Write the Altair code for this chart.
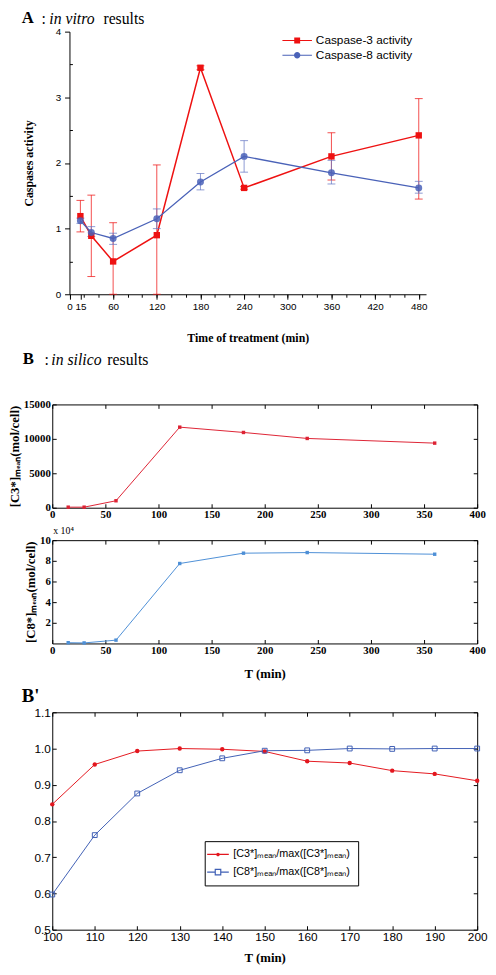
import altair as alt
import pandas as pd

# ---------------- data ----------------
# Panel A : in vitro results
A_TIME = [15, 30, 60, 120, 180, 240, 360, 480]
C3_ACT = [1.19, 0.89, 0.50, 0.90, 3.45, 1.62, 2.10, 2.42]
C3_LO = [0.95, 0.27, 0.00, 0.00, 3.42, 1.60, 1.74, 1.45]
C3_HI = [1.43, 1.51, 1.09, 1.97, 3.48, 1.64, 2.46, 2.98]
C8_ACT = [1.12, 0.94, 0.85, 1.15, 1.71, 2.10, 1.85, 1.62]
C8_LO = [1.08, 0.88, 0.76, 1.00, 1.59, 1.86, 1.68, 1.54]
C8_HI = [1.16, 1.03, 0.93, 1.30, 1.84, 2.34, 2.04, 1.72]
A_SERIES = ["Caspase-3 activity", "Caspase-8 activity"]
A_XLABELS = [0, 15, 60, 120, 180, 240, 300, 360, 420, 480]
A_XMINOR = [0, 20, 40, 60, 80, 100, 120, 140, 160, 180, 200, 220, 240, 260,
            280, 300, 320, 340, 360, 380, 400, 420, 440, 460, 480]
A_YLABELS = [0, 1, 2, 3, 4]
A_YMINOR = [0.5, 1.5, 2.5, 3.5]

# Panel B : in silico results
B_TIME = [15, 30, 60, 120, 180, 240, 360]
C3_MEAN = [80, 80, 1010, 11700, 10930, 10060, 9380]
C8_MEAN = [0.07, 0.05, 0.32, 7.74, 8.74, 8.80, 8.64]  # x 10^4
B_XTICKS = [0, 50, 100, 150, 200, 250, 300, 350, 400]
B1_YTICKS = [0, 5000, 10000, 15000]
B2_YTICKS = [2, 4, 6, 8, 10]

# Panel B'
BP_TIME = [100, 110, 120, 130, 140, 150, 160, 170, 180, 190, 200]
C3_NORM = [0.846, 0.956, 0.993, 1.000, 0.998, 0.992, 0.965, 0.960, 0.939, 0.930, 0.911]
C8_NORM = [0.597, 0.761, 0.876, 0.940, 0.973, 0.994, 0.995, 1.000, 0.999, 1.000, 1.000]
BP_SERIES = ["[C3*]\u2098\u2091\u2090\u2099/max([C3*]\u2098\u2091\u2090\u2099)",
             "[C8*]\u2098\u2091\u2090\u2099/max([C8*]\u2098\u2091\u2090\u2099)"]
BP_XTICKS = [100, 110, 120, 130, 140, 150, 160, 170, 180, 190, 200]
BP_YTICKS = [0.5, 0.6, 0.7, 0.8, 0.9, 1.0, 1.1]

# ---------------- style ----------------
SERIF = "Liberation Serif"
SANS = "Liberation Sans"
W = 432
RED_A, BLUE_A = "#EE1111", "#4A62B8"
RED_B, BLUE_B = "#DD2233", "#4D8FD6"
RED_P, BLUE_P = "#E3161E", "#3F5FB5"

one = pd.DataFrame({"k": [0]})


def label(text, x, y, size=16, weight="normal", style="normal"):
    # y is the top of the text line
    return alt.Chart(one).mark_text(
        text=text, font=SERIF, fontSize=size, fontWeight=weight, fontStyle=style,
        align="left", baseline="top", color="black"
    ).encode(x=alt.value(x), y=alt.value(y))


def tick_axis(orient, values, offset, size=4):
    return alt.Axis(orient=orient, values=values, offset=offset, tickSize=size,
                    labels=False, domain=False, grid=False, title=None,
                    tickColor="black")


# ================= Panel A =================
a3 = pd.DataFrame({"t": A_TIME, "v": C3_ACT, "lo": C3_LO, "hi": C3_HI})
a8 = pd.DataFrame({"t": A_TIME, "v": C8_ACT, "lo": C8_LO, "hi": C8_HI})
xA = alt.Scale(domain=[0, 490], range=[17.5, 380], nice=False)
yA = alt.Scale(domain=[0, 4], nice=False)

xa_main = alt.Axis(orient="bottom", values=A_XLABELS, tickSize=5, tickColor="black",
                   domainColor="black", labelColor="black", labelFont=SANS,
                   labelFontSize=10, labelPadding=2, labelFlush=False,
                   labelOverlap=False, grid=False, format="d",
                   title="Time of treatment (min)", titleFont=SERIF,
                   titleFontSize=12, titleFontWeight="bold", titleColor="black",
                   titlePadding=22)
ya_main = alt.Axis(orient="left", values=A_YLABELS, offset=-17.5, tickSize=5,
                   tickColor="black", domainColor="black", labelColor="black",
                   labelFont=SANS, labelFontSize=10, labelPadding=4, grid=False,
                   format="d", title="Caspases activity", titleFont=SERIF,
                   titleFontSize=12, titleFontWeight="bold", titleColor="black",
                   titlePadding=20)
xa_minor = tick_axis("bottom", A_XMINOR, 0, 3)
ya_minor = tick_axis("left", A_YMINOR, -20.5, 3)


def xa(axis=None):
    return alt.X("t:Q", scale=xA, axis=axis)


def err_layers(d, color):
    rule = alt.Chart(d).mark_rule(color=color, opacity=0.75, strokeWidth=1).encode(
        x=xa(), y=alt.Y("lo:Q", scale=yA, axis=None), y2="hi:Q")
    caps = alt.Chart(d).transform_fold(["lo", "hi"]).mark_tick(
        orient="horizontal", size=8, thickness=1, color=color, opacity=0.75
    ).encode(x=xa(), y=alt.Y("value:Q", scale=yA, axis=None))
    return [rule, caps]


lineA3 = alt.Chart(a3).mark_line(color=RED_A, strokeWidth=1.5).encode(
    x=xa(xa_main), y=alt.Y("v:Q", scale=yA, axis=ya_main))
lineA8 = alt.Chart(a8).mark_line(color=BLUE_A, strokeWidth=1.3).encode(
    x=xa(xa_minor), y=alt.Y("v:Q", scale=yA, axis=ya_minor))
ptA3 = alt.Chart(a3).mark_point(shape="square", filled=True, size=42, color=RED_A,
                                opacity=1).encode(x=xa(), y=alt.Y("v:Q", scale=yA, axis=None))
ptA8 = alt.Chart(a8).mark_point(shape="circle", filled=True, size=50, color=BLUE_A,
                                opacity=0.85).encode(x=xa(), y=alt.Y("v:Q", scale=yA, axis=None))

PATH_SQ = "M-3,-0.12H3V0.12H-3Z M-0.6,-0.6H0.6V0.6H-0.6Z"
PATH_CI = "M-3,-0.12H3V0.12H-3Z M0.65,0A0.65,0.65 0 1,1 -0.65,0A0.65,0.65 0 1,1 0.65,0Z"
legA = alt.Legend(orient="none", legendX=243, legendY=3, title=None, labelFont=SANS,
                  labelFontSize=12, labelColor="black", symbolSize=100,
                  labelOffset=13, rowPadding=3, padding=0, symbolStrokeWidth=0)
legendA = alt.Chart(pd.DataFrame({"s": A_SERIES})).transform_filter("false").mark_point(
    filled=True, opacity=1
).encode(
    color=alt.Color("s:N", scale=alt.Scale(domain=A_SERIES, range=[RED_A, BLUE_A]), legend=legA),
    shape=alt.Shape("s:N", scale=alt.Scale(domain=A_SERIES, range=[PATH_SQ, PATH_CI]), legend=legA),
)

panelA = alt.layer(
    lineA3, lineA8, *err_layers(a3, RED_A), *err_layers(a8, "#6678C4"), ptA3, ptA8, legendA,
    label("A", -31, -22, 17, "bold"), label(":", -11, -21), label("in vitro", -3, -21, style="italic"),
    label("results", 52, -21),
).resolve_axis(x="independent", y="independent").properties(
    width=W, height=267, view=alt.ViewBackground(stroke="transparent"))


# ================= Panel B (two boxes) =================
def box_panel(d, color, yscale, yticks, ytitle, xtitle, height, extra):
    xs = alt.Scale(domain=[0, 400], nice=False)
    x_main = alt.Axis(orient="bottom", values=B_XTICKS, offset=-4, tickSize=4, domain=False,
                      tickColor="black", labelColor="black", labelFont=SERIF,
                      labelFontWeight="bold", labelFontSize=11, labelPadding=1,
                      labelFlush=False, labelOverlap=False, grid=False,
                      title=xtitle, titleFont=SERIF, titleFontSize=13,
                      titleFontWeight="bold", titleColor="black", titlePadding=13)
    y_main = alt.Axis(orient="left", values=yticks, offset=-4, tickSize=4, domain=False,
                      tickColor="black", labelColor="black", labelFont=SERIF,
                      labelFontWeight="bold", labelFontSize=11, labelPadding=2,
                      labelFlush=False, labelOverlap=False, grid=False, format="d",
                      title=ytitle, titleFont=SERIF, titleFontSize=13,
                      titleFontWeight="bold", titleColor="black", titlePadding=2)
    line = alt.Chart(d).mark_line(color=color, strokeWidth=1).encode(
        x=alt.X("t:Q", scale=xs, axis=x_main), y=alt.Y("v:Q", scale=yscale, axis=y_main))
    pts = alt.Chart(d).mark_point(shape="square", filled=True, size=12, color=color,
                                  opacity=1).encode(
        x=alt.X("t:Q", scale=xs, axis=tick_axis("top", B_XTICKS, -4)),
        y=alt.Y("v:Q", scale=yscale, axis=tick_axis("right", yticks, -4)))
    return alt.layer(line, pts, *extra).resolve_axis(
        x="independent", y="independent").properties(width=W, height=height)


b1 = pd.DataFrame({"t": B_TIME, "v": C3_MEAN})
b2 = pd.DataFrame({"t": B_TIME, "v": C8_MEAN})
panelB1 = box_panel(
    b1, RED_B, alt.Scale(domain=[0, 15000], nice=False), B1_YTICKS,
    "[C3*]\u2098\u2091\u2090\u2099(mol/cell)", None, 105,
    [label("B", -30, -54, 17, "bold"), label(":", -8, -53), label("in silico", -1, -53, style="italic"),
     label("results", 56, -53)])
panelB2 = box_panel(
    b2, BLUE_B, alt.Scale(domain=[0, 10], nice=False), B2_YTICKS,
    "[C8*]\u2098\u2091\u2090\u2099(mol/cell)", "T (min)", 105,
    [label("x 10\u2074", 1, -14, 10)])

# ================= Panel B' =================
bp3 = pd.DataFrame({"t": BP_TIME, "v": C3_NORM})
bp8 = pd.DataFrame({"t": BP_TIME, "v": C8_NORM})
xP = alt.Scale(domain=[100, 200], nice=False)
yP = alt.Scale(domain=[0.5, 1.1], nice=False)
xp_main = alt.Axis(orient="bottom", values=BP_XTICKS, offset=-4, tickSize=4, domain=False,
                   tickColor="black", labelColor="black", labelFont=SANS, labelFontSize=12,
                   labelPadding=2, labelFlush=False, labelOverlap=False, grid=False,
                   format="d", title="T (min)", titleFont=SERIF, titleFontSize=13,
                   titleFontWeight="bold", titleColor="black", titlePadding=9)
yp_main = alt.Axis(orient="left", values=BP_YTICKS, offset=-4, tickSize=4, domain=False,
                   tickColor="black", labelColor="black", labelFont=SANS, labelFontSize=12,
                   labelPadding=2, labelFlush=False, labelOverlap=False, grid=False,
                   format=".1f", title=None)
lineP3 = alt.Chart(bp3).mark_line(color=RED_P, strokeWidth=1).encode(
    x=alt.X("t:Q", scale=xP, axis=xp_main), y=alt.Y("v:Q", scale=yP, axis=yp_main))
lineP8 = alt.Chart(bp8).mark_line(color=BLUE_P, strokeWidth=1).encode(
    x=alt.X("t:Q", scale=xP, axis=tick_axis("top", BP_XTICKS, -4)),
    y=alt.Y("v:Q", scale=yP, axis=tick_axis("right", BP_YTICKS, -4)))
ptP3 = alt.Chart(bp3).mark_point(shape="circle", filled=True, size=20, color=RED_P,
                                 opacity=1).encode(
    x=alt.X("t:Q", scale=xP, axis=None), y=alt.Y("v:Q", scale=yP, axis=None))
ptP8 = alt.Chart(bp8).mark_point(shape="square", filled=False, size=24, color=BLUE_P,
                                 strokeWidth=1, opacity=1).encode(
    x=alt.X("t:Q", scale=xP, axis=None), y=alt.Y("v:Q", scale=yP, axis=None))

PATH_DOT = "M-2.75,0H2.75M0.3,0A0.3,0.3 0 1,1 -0.3,0A0.3,0.3 0 1,1 0.3,0Z"
PATH_HSQ = "M-2.75,0H-0.7M0.7,0H2.75M-0.7,-0.7H0.7V0.7H-0.7Z"
legP = alt.Legend(orient="none", legendX=155, legendY=131, title=None, labelFont=SANS,
                  labelFontSize=11, labelColor="black", symbolSize=64,
                  labelOffset=10, rowPadding=6, padding=8, strokeColor="black",
                  fillColor="white", symbolStrokeWidth=1.2)
legendP = alt.Chart(pd.DataFrame({"s": BP_SERIES})).transform_filter("false").mark_point(
    filled=False, opacity=1, strokeWidth=1.2
).encode(
    color=alt.Color("s:N", scale=alt.Scale(domain=BP_SERIES, range=[RED_P, BLUE_P]), legend=legP),
    shape=alt.Shape("s:N", scale=alt.Scale(domain=BP_SERIES, range=[PATH_DOT, PATH_HSQ]), legend=legP),
)
panelP = alt.layer(
    lineP3, lineP8, ptP3, ptP8, legendP, label("B'", -31, -25, 19, "bold")
).resolve_axis(x="independent", y="independent").properties(width=W, height=221)

chart = alt.vconcat(panelA, panelB1, panelB2, panelP, spacing=5).resolve_scale(
    color="independent", shape="independent"
).properties(
    padding={"top": -8, "left": 0, "right": 0, "bottom": 0}, background="white"
).configure_view(stroke="black", strokeWidth=1)

chart.save("out.html", embed_options={"renderer": "svg", "actions": False})
